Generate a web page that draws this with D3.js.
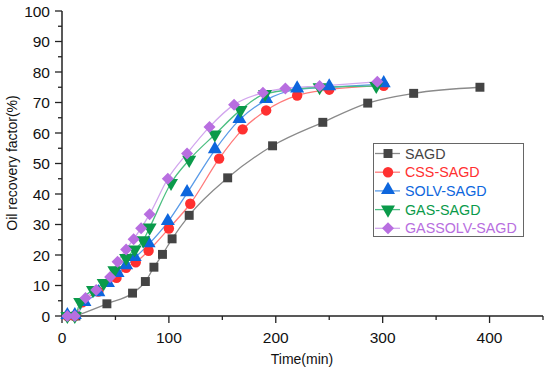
<!DOCTYPE html>
<html>
<head>
<meta charset="utf-8">
<script src="https://cdn.jsdelivr.net/npm/d3@7"></script>
<style>
  body { margin: 0; background: #fff; }
  svg { font-family: "Liberation Sans", Arial, sans-serif; }
</style>
</head>
<body>
<div id="viz-container"></div>
<script>
// values
const seriesNames = ["SAGD", "CSS-SAGD", "SOLV-SAGD", "GAS-SAGD", "GASSOLV-SAGD"];

const sagdT = [13, 42, 66, 78, 86, 94, 103, 119, 155, 197, 244, 286, 329, 391];
const sagdV = [0, 4, 7.5, 11.3, 16, 20.2, 25.3, 33, 45.3, 55.8, 63.5, 69.8, 73, 75];

const cssT = [5, 12, 19, 34, 51, 60, 69, 81, 100, 120, 147, 169, 191, 220, 250, 301];
const cssV = [0, 0, 4.5, 8, 12.5, 15.8, 17.6, 21.4, 28.7, 36.8, 51.6, 61.2, 67.4, 72.3, 74.2, 75.5];

const solvT = [5, 12, 21, 34, 43, 52, 60, 68, 81, 99, 117, 143, 166, 191, 220, 250, 301];
const solvV = [0, 0, 4.3, 7.5, 10.5, 13.8, 16.3, 19, 23.5, 30.8, 40.3, 54.4, 64.3, 70.8, 74.3, 75, 76];

const gasT = [5, 12, 17, 29, 39, 49, 60, 68, 76, 82, 102, 119, 143, 167, 190, 241, 294];
const gasV = [0, 0, 4.6, 8.5, 10.8, 15, 19, 21.8, 24.8, 29, 43.6, 51.2, 59.5, 67.5, 72.8, 75, 75.4];

const gassolvT = [5, 12, 22, 32, 45, 52, 60, 67, 74, 82, 99, 117, 138, 161, 188, 209, 241, 295];
const gassolvV = [0, 0, 5.9, 8.5, 12.8, 17.8, 21.8, 25.2, 28.8, 33.4, 45, 53.3, 62, 69.3, 73.2, 74.6, 75.4, 76.8];

const xTicks = [0, 100, 200, 300, 400];
const yTicks = [0, 10, 20, 30, 40, 50, 60, 70, 80, 90, 100];

const markerCol = ["#444444", "#ff3030", "#0d66dd", "#0a9a4a", "#b86ee0"];
const lineCol = ["#8a8a8a", "#ff7a7a", "#5a9be8", "#4cbf82", "#d2a6ee"];
const symbols = [d3.symbolSquare, d3.symbolCircle, d3.symbolTriangle, d3.symbolTriangle, d3.symbolSquare];
const symSize = [80, 85, 85, 85, 72];

const zip = (ts, vs) => ts.map((t, i) => ({t: t, v: vs[i]}));
const allData = [zip(sagdT, sagdV), zip(cssT, cssV), zip(solvT, solvV), zip(gasT, gasV), zip(gassolvT, gassolvV)];

const svg = d3.select('#viz-container')
    .append('svg')
        .attr("width", 550)
        .attr("height", 375);

const x = d3.scaleLinear().domain([0, 450]).range([62, 543]);
const y = d3.scaleLinear().domain([0, 100]).range([316, 11]);

// axes
const xAxis = svg.append('g').attr('transform', 'translate(0,316)');
xAxis.append('line').attr('x1', 62).attr('x2', 543).attr('stroke', '#222').attr('stroke-width', 1.5);
d3.range(0, 451, 50).forEach(t => {
    xAxis.append('line')
        .attr('x1', x(t)).attr('x2', x(t))
        .attr('y1', 0).attr('y2', t % 100 === 0 ? 7 : 4)
        .attr('stroke', '#222').attr('stroke-width', 1.3);
});
xAxis.selectAll('text.tick').data(xTicks).enter()
    .append('text')
        .attr('x', d => x(d))
        .attr('y', 27)
        .attr('text-anchor', 'middle')
        .attr('font-size', 15.5)
        .attr('fill', '#111')
        .text(d => d);

const yAxis = svg.append('g');
yAxis.append('line').attr('x1', 62).attr('x2', 62).attr('y1', 316).attr('y2', 11)
    .attr('stroke', '#222').attr('stroke-width', 1.5);
d3.range(0, 101, 5).forEach(v => {
    yAxis.append('line')
        .attr('x1', 62).attr('x2', v % 10 === 0 ? 55 : 58)
        .attr('y1', y(v)).attr('y2', y(v))
        .attr('stroke', '#222').attr('stroke-width', 1.3);
});
yAxis.selectAll('text.tick').data(yTicks).enter()
    .append('text')
        .attr('x', 50)
        .attr('y', d => y(d) + 5.5)
        .attr('text-anchor', 'end')
        .attr('font-size', 15.5)
        .attr('fill', '#111')
        .text(d => d);

svg.append('text')
    .attr('x', 302).attr('y', 364)
    .attr('text-anchor', 'middle')
    .attr('font-size', 14)
    .attr('fill', '#111')
    .text('Time(min)');

svg.append('text')
    .attr('transform', 'translate(17,163) rotate(-90)')
    .attr('text-anchor', 'middle')
    .attr('font-size', 14)
    .attr('fill', '#111')
    .text('Oil recovery factor(%)');

// lines
const line = d3.line()
    .x(d => x(d.t))
    .y(d => y(d.v))
    .curve(d3.curveMonotoneX);

const symPath = (i) => d3.symbol().type(symbols[i]).size(symSize[i])();
const symTransform = (i, px, py) => `translate(${px},${py})`
    + (i === 3 ? ' rotate(180)' : '')
    + (i === 4 ? ' rotate(45)' : '')
    + (i === 2 ? ' translate(0,-1)' : '');

allData.forEach((data, i) => {
    svg.append('path')
        .attr('d', line(data))
        .attr('fill', 'none')
        .attr('stroke', lineCol[i])
        .attr('stroke-width', 1.3);
});

allData.forEach((data, i) => {
    svg.selectAll('path.m' + i).data(data).enter()
        .append('path')
            .attr('class', 'm' + i)
            .attr('d', symPath(i))
            .attr('transform', d => symTransform(i, x(d.t), y(d.v)))
            .attr('fill', markerCol[i]);
});

// legend
const legend = svg.append('g');
legend.append('rect')
    .attr('x', 373.5).attr('y', 143.5)
    .attr('width', 150).attr('height', 93)
    .attr('fill', '#fff')
    .attr('stroke', '#666')
    .attr('stroke-width', 1);

seriesNames.forEach((name, i) => {
    const ly = 153.5 + i * 18.7;
    legend.append('line')
        .attr('x1', 375).attr('x2', 400)
        .attr('y1', ly).attr('y2', ly)
        .attr('stroke', lineCol[i]).attr('stroke-width', 1.3);
    legend.append('path')
        .attr('d', symPath(i))
        .attr('transform', symTransform(i, 388, ly))
        .attr('fill', markerCol[i]);
    legend.append('text')
        .attr('x', 405).attr('y', ly + 5)
        .attr('font-size', 14.3)
        .attr('fill', markerCol[i])
        .text(name);
});
</script>
</body>
</html>
